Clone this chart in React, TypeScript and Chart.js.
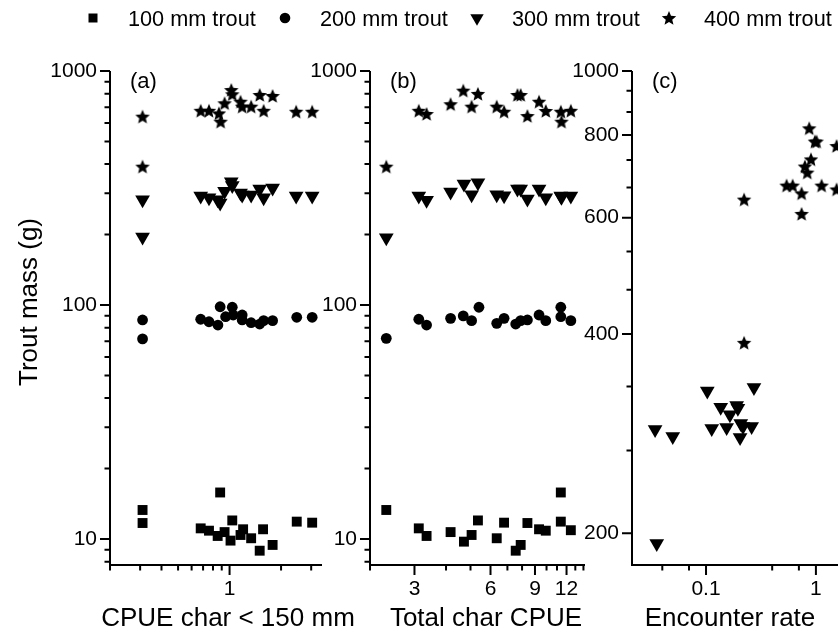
import React, { useEffect, useRef } from 'react';
import { Chart, registerables } from 'chart.js';

Chart.register(...registerables);

// ---------------- series names ----------------
const SERIES_NAMES = ['100 mm trout', '200 mm trout', '300 mm trout', '400 mm trout'];

// ---------------- panel (a): CPUE char < 150 mm ----------------
const A_SQ_X = [0.31, 0.31, 0.678, 0.758, 0.852, 0.881, 0.935, 1.013, 1.037, 1.159, 1.2, 1.337, 1.5, 1.57, 1.785, 2.47, 3.04];
const A_SQ_Y = [13.3, 11.7, 11.1, 10.85, 10.3, 15.8, 10.7, 9.84, 12.0, 10.4, 11.0, 10.07, 8.91, 11.0, 9.43, 11.86, 11.74];
const A_CIR_X = [0.31, 0.31, 0.678, 0.758, 0.855, 0.881, 0.948, 1.037, 1.05, 1.185, 1.185, 1.337, 1.5, 1.582, 1.785, 2.47, 3.04];
const A_CIR_Y = [86.3, 71.6, 86.9, 84.8, 82.1, 98.3, 89.1, 97.8, 90.6, 90.6, 86.3, 84.0, 82.9, 85.7, 85.7, 88.6, 88.6];
const A_TRI_X = [0.31, 0.31, 0.678, 0.758, 0.852, 0.881, 0.935, 1.023, 1.037, 1.159, 1.185, 1.337, 1.5, 1.582, 1.785, 2.45, 3.04];
const A_TRI_Y = [282, 195, 292, 287, 282, 273, 306, 336, 324, 301, 295, 295, 313, 287, 316, 292, 292];
const A_STAR_X = [0.31, 0.31, 0.678, 0.758, 0.866, 0.886, 0.935, 1.023, 1.037, 1.159, 1.185, 1.337, 1.5, 1.582, 1.785, 2.45, 3.04];
const A_STAR_Y = [638, 390, 676, 676, 659, 607, 728, 829, 795, 739, 704, 704, 790, 676, 782, 670, 670];

// ---------------- panel (b): Total char CPUE ----------------
const B_SQ_X = [2.32, 3.12, 3.35, 4.17, 4.71, 5.05, 5.35, 6.35, 6.79, 7.55, 7.9, 8.4, 9.34, 9.93, 11.39, 11.39, 12.48];
const B_SQ_Y = [13.3, 11.1, 10.3, 10.7, 9.74, 10.4, 12.0, 10.07, 11.74, 8.91, 9.43, 11.7, 11.0, 10.85, 15.8, 11.86, 10.9];
const B_CIR_X = [2.32, 3.12, 3.35, 4.17, 4.68, 5.05, 5.4, 6.35, 6.79, 7.55, 7.9, 8.4, 9.34, 9.93, 11.39, 11.39, 12.48];
const B_CIR_Y = [72.0, 86.9, 82.1, 87.7, 89.8, 85.7, 97.8, 83.5, 87.7, 82.9, 85.7, 86.3, 90.6, 85.7, 97.8, 89.1, 85.7];
const B_TRI_X = [2.32, 3.12, 3.35, 4.17, 4.71, 5.05, 5.35, 6.35, 6.79, 7.67, 7.9, 8.4, 9.34, 9.93, 11.39, 11.46, 12.48];
const B_TRI_Y = [194, 292, 280, 304, 329, 296, 333, 296, 293, 313, 313, 284, 313, 287, 292, 289, 292];
const B_STAR_X = [2.32, 3.12, 3.35, 4.17, 4.68, 5.05, 5.35, 6.35, 6.79, 7.67, 7.9, 8.4, 9.34, 9.93, 11.39, 11.46, 12.48];
const B_STAR_Y = [390, 676, 655, 721, 824, 704, 798, 704, 670, 790, 790, 642, 739, 675, 670, 607, 676];

// ---------------- panel (c): Encounter rate ----------------
const C_TRI_X = [0.0344, 0.0498, 0.0356, 0.1027, 0.1127, 0.136, 0.154, 0.165, 0.19, 0.195, 0.207, 0.217, 0.204, 0.26, 0.273];
const C_TRI_Y = [287, 280, 193, 328, 288, 310, 289, 302, 312, 309, 293, 290, 279, 290, 332];
const C_STAR_X = [0.222, 0.222, 0.541, 0.614, 0.741, 0.741, 0.794, 0.834, 0.869, 0.901, 0.979, 1.015, 1.127, 1.543, 1.543];
const C_STAR_Y = [639, 388, 671, 671, 653, 608, 717, 702, 819, 735, 782, 782, 671, 770, 662];

// ---------------- axis ranges & ticks ----------------
const A_X_RANGE = [0.2, 3.47];
const B_X_RANGE = [2, 14.2];
const C_X_RANGE = [0.0212, 3.83];
const AB_Y_RANGE = [7.74, 1000];
const C_Y_RANGE = [179, 1000];

const A_X_LABELS = [1];
const A_X_MINOR = [0.2, 0.3, 0.4, 0.5, 0.6, 0.7, 0.8, 0.9, 2, 3];
const B_X_LABELS = [3, 6, 9, 12];
const B_X_MINOR = [2, 4, 5, 7, 8, 10, 11, 13, 14];
const C_X_LABELS = [0.1, 1];
const C_X_MINOR = [0.04, 0.07, 0.4, 0.7];
const AB_Y_LABELS = [10, 100, 1000];
const AB_Y_MINOR = [8, 9, 20, 30, 40, 50, 60, 70, 80, 90, 200, 300, 400, 500, 600, 700, 800, 900];
const C_Y_LABELS = [200, 400, 600, 800, 1000];
const C_Y_MINOR = [266.7, 333.3, 466.7, 533.3, 666.7, 733.3, 866.7, 933.3];

const X_TITLES = ['CPUE char < 150 mm', 'Total char CPUE', 'Encounter rate'];
const Y_TITLE = 'Trout mass (g)';
const TAGS = ['(a)', '(b)', '(c)'];

// ---------------- styling ----------------
const FONT = '"Liberation Sans", Arial, Helvetica, sans-serif';
const INK = '#000';
const PAGE_W = 838;
const PAGE_H = 629;
const Y_AXIS_W = 60;
const X_AXIS_H = 40;

function makeStar(size: number, outer: number, inner: number): HTMLCanvasElement {
  const c = document.createElement('canvas');
  c.width = size;
  c.height = size;
  const g = c.getContext('2d')!;
  g.fillStyle = INK;
  g.beginPath();
  for (let i = 0; i < 10; i++) {
    const r = i % 2 === 0 ? outer : inner;
    const a = -Math.PI / 2 + (i * Math.PI) / 5;
    const px = size / 2 + r * Math.cos(a);
    const py = size / 2 + 0.6 + r * Math.sin(a);
    if (i === 0) g.moveTo(px, py);
    else g.lineTo(px, py);
  }
  g.closePath();
  g.fill();
  return c;
}

function pts(xs: number[], ys: number[]) {
  return xs.map((x, i) => ({ x, y: ys[i] }));
}

function seriesDatasets(
  sq: [number[], number[]] | null,
  cir: [number[], number[]] | null,
  tri: [number[], number[]] | null,
  star: [number[], number[]] | null,
  starImg: HTMLCanvasElement
) {
  const base = { backgroundColor: INK, borderColor: INK, pointBorderWidth: 0, clip: false as any };
  const out: any[] = [];
  if (sq) out.push({ ...base, label: SERIES_NAMES[0], data: pts(sq[0], sq[1]), pointStyle: 'rect', pointRadius: 7 });
  if (cir) out.push({ ...base, label: SERIES_NAMES[1], data: pts(cir[0], cir[1]), pointStyle: 'circle', pointRadius: 5.4 });
  if (tri) out.push({ ...base, label: SERIES_NAMES[2], data: pts(tri[0], tri[1]), pointStyle: 'triangle', pointRadius: 8.5, pointRotation: 180 });
  if (star) out.push({ ...base, label: SERIES_NAMES[3], data: pts(star[0], star[1]), pointStyle: starImg, pointRadius: 7 });
  return out;
}

type Panel = {
  id: string;
  area: { left: number; right: number; top: number; bottom: number };
  canvasW: number;
  xRange: number[];
  yRange: number[];
  xLabels: number[];
  xMinor: number[];
  yLabels: number[];
  yMinor: number[];
  tag: string;
  xTitle: string;
  xTitleCenter: number;
  yTitle?: string;
  legend?: boolean;
};

function decoPlugin(p: Panel, starImg: HTMLCanvasElement) {
  return {
    id: 'deco_' + p.id,
    afterDraw(chart: any) {
      const ctx: CanvasRenderingContext2D = chart.ctx;
      const { left, right, top, bottom } = chart.chartArea;
      const xs = chart.scales.x;
      const ys = chart.scales.y;
      ctx.save();
      ctx.strokeStyle = INK;
      ctx.lineWidth = 2;
      ctx.lineJoin = 'miter';
      ctx.beginPath();
      ctx.moveTo(left, top);
      ctx.lineTo(left, bottom);
      ctx.lineTo(right, bottom);
      ctx.stroke();

      ctx.beginPath();
      const MAJ = 10;
      const MIN = 5.5;
      for (const v of p.yLabels) {
        const y = ys.getPixelForValue(v);
        ctx.moveTo(left, y);
        ctx.lineTo(left - MAJ, y);
      }
      for (const v of p.yMinor) {
        const y = ys.getPixelForValue(v);
        ctx.moveTo(left, y);
        ctx.lineTo(left - MIN, y);
      }
      for (const v of p.xLabels) {
        const x = xs.getPixelForValue(v);
        ctx.moveTo(x, bottom);
        ctx.lineTo(x, bottom + MAJ);
      }
      for (const v of p.xMinor) {
        const x = xs.getPixelForValue(v);
        ctx.moveTo(x, bottom);
        ctx.lineTo(x, bottom + MIN);
      }
      ctx.stroke();

      ctx.fillStyle = INK;
      ctx.font = `22px ${FONT}`;
      ctx.textAlign = 'left';
      ctx.textBaseline = 'middle';
      ctx.fillText(p.tag, left + 20, top + 11);

      ctx.font = `26px ${FONT}`;
      ctx.textAlign = 'center';
      ctx.textBaseline = 'alphabetic';
      ctx.fillText(p.xTitle, p.xTitleCenter, 625.5);

      if (p.yTitle) {
        ctx.save();
        ctx.translate(37, 302);
        ctx.rotate(-Math.PI / 2);
        ctx.fillText(p.yTitle, 0, 0);
        ctx.restore();
      }

      if (p.legend) {
        const cy = 18;
        ctx.font = `21.7px ${FONT}`;
        ctx.textAlign = 'left';
        ctx.textBaseline = 'alphabetic';
        SERIES_NAMES.forEach((name, i) => {
          const mx = 93 + 192 * i;
          ctx.beginPath();
          if (i === 0) {
            ctx.rect(mx - 4.5, cy - 4.5, 9, 9);
          } else if (i === 1) {
            ctx.arc(mx, cy, 5.3, 0, Math.PI * 2);
          } else if (i === 2) {
            const r = 7.7;
            ctx.moveTo(mx, cy + r);
            ctx.lineTo(mx - r * 0.866, cy - r / 2);
            ctx.lineTo(mx + r * 0.866, cy - r / 2);
            ctx.closePath();
          }
          ctx.fill();
          if (i === 3) ctx.drawImage(starImg, mx - starImg.width / 2, cy - starImg.height / 2);
          ctx.fillText(name, mx + 35, 26);
        });
      }
      ctx.restore();
    },
  };
}

function makeConfig(p: Panel, datasets: any[], starImg: HTMLCanvasElement): any {
  const tickFont = { family: FONT, size: 21 };
  return {
    type: 'scatter',
    data: { datasets },
    options: {
      responsive: false,
      animation: false,
      devicePixelRatio: 1,
      events: [],
      layout: {
        padding: {
          left: p.area.left - Y_AXIS_W,
          right: p.canvasW - p.area.right,
          top: p.area.top,
          bottom: PAGE_H - p.area.bottom - X_AXIS_H,
        },
      },
      plugins: { legend: { display: false }, tooltip: { enabled: false } },
      scales: {
        x: {
          type: 'logarithmic',
          position: 'bottom',
          min: p.xRange[0],
          max: p.xRange[1],
          afterFit: (s: any) => {
            s.height = X_AXIS_H;
          },
          afterBuildTicks: (s: any) => {
            s.ticks = p.xLabels.map((v) => ({ value: v }));
          },
          ticks: {
            autoSkip: false,
            maxRotation: 0,
            minRotation: 0,
            padding: 12,
            color: INK,
            font: tickFont,
            callback: (v: any) => String(v),
          },
          grid: { display: false, drawTicks: false },
          border: { display: false },
        },
        y: {
          type: 'logarithmic',
          position: 'left',
          min: p.yRange[0],
          max: p.yRange[1],
          afterFit: (s: any) => {
            s.width = Y_AXIS_W;
          },
          afterBuildTicks: (s: any) => {
            s.ticks = p.yLabels.map((v) => ({ value: v }));
          },
          ticks: {
            autoSkip: false,
            padding: 13,
            color: INK,
            font: tickFont,
            callback: (v: any) => String(v),
          },
          grid: { display: false, drawTicks: false },
          border: { display: false },
        },
      },
    },
    plugins: [decoPlugin(p, starImg)],
  };
}

const PANEL_A: Panel = {
  id: 'a',
  area: { left: 110, right: 322, top: 71, bottom: 565 },
  canvasW: PAGE_W,
  xRange: A_X_RANGE,
  yRange: AB_Y_RANGE,
  xLabels: A_X_LABELS,
  xMinor: A_X_MINOR,
  yLabels: AB_Y_LABELS,
  yMinor: AB_Y_MINOR,
  tag: TAGS[0],
  xTitle: X_TITLES[0],
  xTitleCenter: 228,
  yTitle: Y_TITLE,
  legend: true,
};
const PANEL_B: Panel = {
  id: 'b',
  area: { left: 370, right: 585, top: 71, bottom: 565 },
  canvasW: PAGE_W,
  xRange: B_X_RANGE,
  yRange: AB_Y_RANGE,
  xLabels: B_X_LABELS,
  xMinor: B_X_MINOR,
  yLabels: AB_Y_LABELS,
  yMinor: AB_Y_MINOR,
  tag: TAGS[1],
  xTitle: X_TITLES[1],
  xTitleCenter: 486,
};
const PANEL_C: Panel = {
  id: 'c',
  area: { left: 632, right: 880, top: 71, bottom: 565 },
  canvasW: 940,
  xRange: C_X_RANGE,
  yRange: C_Y_RANGE,
  xLabels: C_X_LABELS,
  xMinor: C_X_MINOR,
  yLabels: C_Y_LABELS,
  yMinor: C_Y_MINOR,
  tag: TAGS[2],
  xTitle: X_TITLES[2],
  xTitleCenter: 730,
};

export default function App() {
  const refA = useRef<HTMLCanvasElement>(null);
  const refB = useRef<HTMLCanvasElement>(null);
  const refC = useRef<HTMLCanvasElement>(null);

  useEffect(() => {
    const star = makeStar(18, 7.6, 3.4);
    const charts: Chart[] = [];
    if (refA.current) {
      charts.push(
        new Chart(
          refA.current,
          makeConfig(
            PANEL_A,
            seriesDatasets([A_SQ_X, A_SQ_Y], [A_CIR_X, A_CIR_Y], [A_TRI_X, A_TRI_Y], [A_STAR_X, A_STAR_Y], star),
            star
          )
        )
      );
    }
    if (refB.current) {
      charts.push(
        new Chart(
          refB.current,
          makeConfig(
            PANEL_B,
            seriesDatasets([B_SQ_X, B_SQ_Y], [B_CIR_X, B_CIR_Y], [B_TRI_X, B_TRI_Y], [B_STAR_X, B_STAR_Y], star),
            star
          )
        )
      );
    }
    if (refC.current) {
      charts.push(
        new Chart(
          refC.current,
          makeConfig(PANEL_C, seriesDatasets(null, null, [C_TRI_X, C_TRI_Y], [C_STAR_X, C_STAR_Y], star), star)
        )
      );
    }
    return () => charts.forEach((c) => c.destroy());
  }, []);

  const cstyle: React.CSSProperties = { position: 'absolute', left: 0, top: 0 };
  return (
    <div
      style={{
        position: 'absolute',
        left: 0,
        top: 0,
        width: PAGE_W,
        height: PAGE_H,
        overflow: 'hidden',
        background: '#fff',
      }}
    >
      <canvas ref={refA} width={PAGE_W} height={PAGE_H} style={cstyle} />
      <canvas ref={refB} width={PAGE_W} height={PAGE_H} style={cstyle} />
      <canvas ref={refC} width={940} height={PAGE_H} style={{ ...cstyle, width: 940, height: PAGE_H }} />
    </div>
  );
}
